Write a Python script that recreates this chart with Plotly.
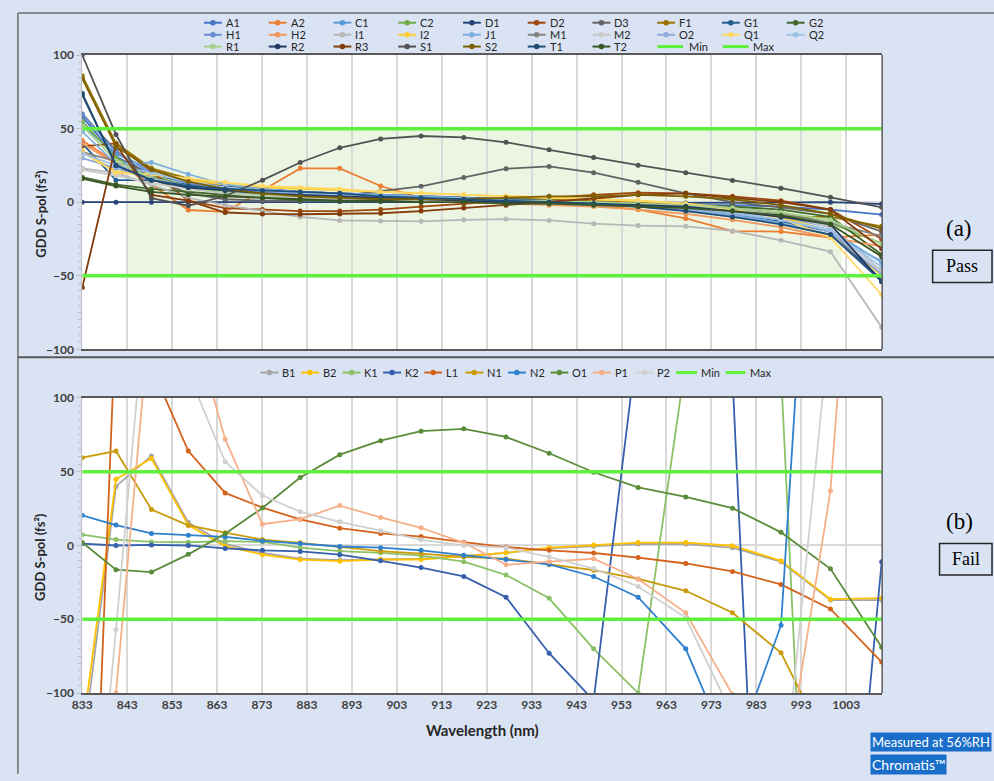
import plotly.graph_objects as go

W, H = 994, 781

# ---------------- data ----------------
wavelength = [833, 840.5, 848.4, 856.6, 864.8, 873.1, 881.5, 890.3, 899.4, 908.4,
              917.9, 927.3, 936.9, 946.8, 956.7, 967.3, 977.7, 988.5, 999.5, 1010.9]

x_tick_labels = [833, 843, 853, 863, 873, 883, 893, 903, 913, 923, 933, 943, 953, 963, 973, 983, 993, 1003]
y_tick_labels = [-100, -50, 0, 50, 100]
min_spec = -50
max_spec = 50
pass_band_start = 843
pass_band_end = 1002

# panel (a) - Pass
A1 = [58, 31, 19, 13, 10, 8, 7, 6, 5, 4, 3, 2, 1, 0, -1, -2, -2, -3, -5, -8.4]
A2 = [42, 27, 12, -5.3, -6.6, 8, 23, 23, 11, 3, 2, 1, 0, -2, -5, -11, -19.7, -20, -24, -22]
C1 = [52, 33, 22, 16, 11, 9, 7, 6, 4, 3, 2, 1, 0, -1, -3, -5, -8, -12, -19, -41]
C2 = [55, 30, 18, 11, 8, 6, 5, 4, 3, 2, 2, 1, 1, 0, -1, -2, -4, -7, -14, -28]
D1 = [0, 0, 0, 0, 0.5, 0.5, 0.5, 0.5, 0.5, 0.5, 0.5, 0.5, 0, 0, 0, -0.5, -0.5, 0, 0, -1.3]
D2 = [38, 40, 21, 1, -4, -5, -6, -6, -5, -3, -1, 1, 3, 5, 6.5, 6, 4, 1, -5, -25]
D3 = [60, 35, 16, 6, 2, 1, 1, 4, 7.5, 10.8, 16.8, 22.8, 24.3, 20.1, 13.5, 6, 0, -3.5, -8, -20]
F1 = [86, 40, 23, 16, 11, 8, 6, 5, 4, 3, 3, 2, 2, 1, 0, -2, -5, -10, -10, -16.4]
G1 = [40, 15, 15, 12, 11, 8.8, 7, 6, 5, 4, 3, 2, 1, 0, -2, -4, -8, -13, -20, -52.7]
G2 = [17, 12, 9, 7, 5, 3, 1.5, 1, 1, 1, 1, 0, 0, 0, -1, -2, -3, -5, -10, -35.6]
H1 = [60, 34, 20, 13, 9, 7, 6, 5, 4, 3, 2, 1, 0, -1, -2, -4, -6, -10, -17, -47]
H2 = [40, 26, 16, 10, 7, 5, 4, 3, 2, 1, 0, -1, -2, -3, -5, -8, -12, -17, -24, -30]
I1 = [23, 20, 12, 3, -2, -6, -10, -12.4, -12.8, -13, -12, -11.5, -12.4, -14.6, -15.9, -16.4, -19.5, -25.9, -33.6, -85]
I2 = [35, 21, 19, 15, 12, 10, 9, 8, 7, 6, 5, 4, 3, 2, 1, -1, -4, -10, -20, -50]
J1 = [48, 26, 27, 19, 12, 9, 7, 6, 5, 4, 3, 1, 0, -1, -3, -5, -9, -14, -22, -40]
M1 = [34, 28, 17, 10, 7, 5, 4, 3, 2, 2, 1, 1, 0, 0, -1, -2, -4, -8, -14, -23]
M2 = [22, 18, 13, 9, 6, 4, 3, 2, 2, 1, 1, 0, 0, -1, -2, -3, -5, -9, -17, -47.3]
O2 = [30, 23, 16, 11, 8, 6, 5, 4, 3, 2, 1, 0, -1, -2, -3, -5, -8, -12, -20, -49]
Q1 = [34, 20, 19, 16, 13.5, 11, 10, 9, 7, 6, 5, 4, 3, 2, 1, -1, -5, -11, -24, -62.8]
Q2 = [33, 25, 20, 14, 10, 8, 6, 5, 4, 3, 2, 1, 0, -1, -2, -4, -7, -12, -19, -44]
R1 = [52, 28, 16, 10, 7, 5, 4, 3, 3, 2, 2, 1, 1, 0, -1, -2, -4, -7, -12, -28.5]
R2 = [73, 25, 15, 10, 8, 6, 5, 4, 3, 2, 1, 0, 0, -1, -2, -3, -6, -10, -15, -54]
R3 = [-58, 39, 5, 1, -7, -8, -8.2, -8, -7.5, -6, -4, -2, 0, 2.5, 5, 6, 3, 0, -5, -31.6]
S1 = [100, 46, 2.7, -2.4, 4.2, 15, 27, 37, 43, 45, 44, 40.7, 35.6, 30.3, 25.2, 20.1, 14.8, 9.5, 3.3, -3.5]
S2 = [84, 38, 22, 14, 9, 6, 4, 3, 2, 2, 2, 3, 4, 4, 5, 4, 2, -2, -8, -18]
T1 = [74, 25, 15, 11, 9, 8, 7, 6, 4, 3, 2, 1, 0, -1, -3, -6, -10, -15, -22, -53.8]
T2 = [16, 11, 7, 5, 4, 3, 2, 1, 1, 0, 0, -1, -1, -2, -3, -4, -6, -9, -15, -37]

pass_names = ["A1", "A2", "C1", "C2", "D1", "D2", "D3", "F1", "G1", "G2",
              "H1", "H2", "I1", "I2", "J1", "M1", "M2", "O2", "Q1", "Q2",
              "R1", "R2", "R3", "S1", "S2", "T1", "T2"]
pass_values = [A1, A2, C1, C2, D1, D2, D3, F1, G1, G2,
               H1, H2, I1, I2, J1, M1, M2, O2, Q1, Q2,
               R1, R2, R3, S1, S2, T1, T2]
pass_colors = ["#4472c4", "#ed7d31", "#5b9bd5", "#70ad47", "#264478", "#9e480e", "#636363", "#997300", "#255e91", "#43682b",
               "#698ed0", "#f1975a", "#b7b7b7", "#ffcd33", "#7cafdd", "#848484", "#c9c9c9", "#8faadc", "#ffd966", "#9dc3e6",
               "#a9d18e", "#203864", "#843c0c", "#525252", "#7f6000", "#1f4e79", "#375623"]

# panel (b) - Fail
B1 = [-140, 40, 60.7, 15.6, 1, -5, -9, -10, -9.5, -9, -7, -5, -2, -0.5, 1, 1, -1.5, -11, -37, -37]
B2 = [-127, 44.9, 58.9, 13.8, -0.4, -6.2, -9.6, -10.6, -9.5, -9.5, -7.3, -5, -1.5, 0.4, 2, 2, -0.2, -10.4, -36.4, -35.6]
K1 = [7.3, 4, 2.4, 2.2, 2.9, 2.4, -1.5, -3.8, -5, -6.9, -11, -20, -35.8, -70, -100, 125, 180, 118, -590, -400]
K2 = [1.3, 0, 0.4, 0, -2, -3.3, -4, -6.2, -10.4, -15, -21, -35, -73, -105, 142, 250, 114, -587, -384, -11]
L1 = [-420, 158, 121, 64, 35.6, 25.6, 17.7, 11.7, 8.2, 6, 2.2, -1.1, -3.3, -5.1, -8.2, -12.2, -17.6, -26.4, -43, -79]
N1 = [59.5, 64, 24.4, 13.6, 8.7, 4, 1.8, -1, -3.8, -5.5, -7.7, -9, -13, -16.7, -22.7, -30.7, -45.6, -72.7, -140, -220]
N2 = [20.4, 13.8, 8.2, 6.9, 5.8, 3.1, 1.3, -0.7, -1.5, -3.3, -6.6, -9.5, -12.8, -21, -35, -70, -145, -54, 478, 900]
O1 = [2, -16.4, -18, -6, 8, 25.4, 46, 61.5, 71, 77.4, 79, 73.5, 62.5, 49.6, 39.3, 32.9, 25.3, 8.9, -15.8, -68.9]
P1 = [-346, -100, 167, 162, 72, 14.4, 17.8, 27, 19, 12, 1.8, -13, -11, -9, -22.7, -45.6, -101, -172, 37, 500]
P2 = [-300, -57, 210, 117, 56.7, 33.8, 22.9, 16, 10, 3.8, 0, -1.5, -7.7, -15.6, -27.8, -49, -115, -182, 154, 300]

fail_names = ["B1", "B2", "K1", "K2", "L1", "N1", "N2", "O1", "P1", "P2"]
fail_values = [B1, B2, K1, K2, L1, N1, N2, O1, P1, P2]
fail_colors = ["#a5a5a5", "#ffc000", "#8cc168", "#3560ad", "#d4621b", "#c99a0a", "#2f80cf", "#5b8c3a", "#f5b08a", "#d0d0d0"]

spec_color = "#5ef03c"
bg = "#dae3f3"
font_main = "Lato"

# ---------------- helpers (pixel -> paper) ----------------
def PX(v):
    return v / W


def PY(v):
    return 1 - v / H


fig = go.Figure()

for name, vals, col in zip(pass_names, pass_values, pass_colors):
    fig.add_trace(go.Scatter(x=wavelength, y=vals, mode="lines+markers", name=name,
                             line=dict(color=col, width=1.8), marker=dict(color=col, size=5),
                             xaxis="x", yaxis="y", showlegend=False))
for nm, val in (("Min", min_spec), ("Max", max_spec)):
    fig.add_trace(go.Scatter(x=wavelength, y=[val] * len(wavelength), mode="lines", name=nm,
                             line=dict(color=spec_color, width=3.5), xaxis="x", yaxis="y", showlegend=False))

for name, vals, col in zip(fail_names, fail_values, fail_colors):
    fig.add_trace(go.Scatter(x=wavelength, y=vals, mode="lines+markers", name=name,
                             line=dict(color=col, width=1.8), marker=dict(color=col, size=5),
                             xaxis="x2", yaxis="y2", showlegend=False))
for nm, val in (("Min", min_spec), ("Max", max_spec)):
    fig.add_trace(go.Scatter(x=wavelength, y=[val] * len(wavelength), mode="lines", name=nm,
                             line=dict(color=spec_color, width=3.5), xaxis="x2", yaxis="y2", showlegend=False))

xdom = [PX(73), PX(881)]
ydom_a = [PY(348), PY(48)]
ydom_b = [PY(698.5), PY(397.5)]

xcommon = dict(range=[833, 1011], tickvals=x_tick_labels, showgrid=True, gridcolor="#d9d9d9", gridwidth=1.5,
               showline=True, linecolor="#595959", linewidth=1.5, mirror=True, ticks="", zeroline=False,
               domain=xdom, fixedrange=True)
ycommon = dict(range=[-100, 100], tickvals=y_tick_labels, showgrid=False, showline=True, linecolor="#bfbfbf",
               linewidth=1, ticks="outside", ticklen=5, tickcolor="#bfbfbf",
               minor=dict(dtick=5, ticks="outside", ticklen=3, tickcolor="#bfbfbf", showgrid=False),
               zeroline=True, zerolinecolor="#d9d9d9", zerolinewidth=1.5,
               tickfont=dict(family=font_main, size=12, color="#404040", weight="bold"))

fig.update_layout(
    width=W, height=H, margin=dict(l=0, r=0, t=0, b=0),
    paper_bgcolor=bg, plot_bgcolor="white", showlegend=False,
    font=dict(family=font_main, color="#404040"),
    xaxis=dict(xcommon, anchor="y", showticklabels=False),
    yaxis=dict(ycommon, domain=ydom_a, anchor="x"),
    xaxis2=dict(xcommon, anchor="y2", showticklabels=True,
                tickfont=dict(family=font_main, size=12, color="#404040", weight="bold")),
    yaxis2=dict(ycommon, domain=ydom_b, anchor="x2"),
)

shapes = []
annots = []

# pass band shading
shapes.append(dict(type="rect", xref="x", yref="y", x0=pass_band_start, x1=pass_band_end,
                   y0=min_spec, y1=max_spec, fillcolor="#ebf5e1", line=dict(width=0), layer="below"))

# right borders of plot areas
for ya, yb in ((48, 348), (397.5, 698.5)):
    shapes.append(dict(type="line", xref="paper", yref="paper", x0=PX(881), x1=PX(881), y0=PY(ya), y1=PY(yb),
                       line=dict(color="#595959", width=1.5)))

# outer frame lines
shapes.append(dict(type="line", xref="paper", yref="paper", x0=PX(8), x1=PX(8), y0=PY(5), y1=PY(781),
                   line=dict(color="#6d6d6d", width=1.5)))
shapes.append(dict(type="line", xref="paper", yref="paper", x0=PX(8), x1=PX(994), y0=PY(5), y1=PY(5),
                   line=dict(color="#6d6d6d", width=1.5)))
shapes.append(dict(type="line", xref="paper", yref="paper", x0=PX(8), x1=PX(994), y0=PY(356), y1=PY(356),
                   line=dict(color="#595959", width=2)))


def legend_marker_item(cx, cy, color, name):
    shapes.append(dict(type="line", xref="paper", yref="paper", x0=PX(cx - 9), x1=PX(cx + 9),
                       y0=PY(cy), y1=PY(cy), line=dict(color=color, width=2)))
    r = 2.8
    shapes.append(dict(type="circle", xref="paper", yref="paper", x0=PX(cx - r), x1=PX(cx + r),
                       y0=PY(cy + r), y1=PY(cy - r), fillcolor=color, line=dict(color=color, width=0)))
    annots.append(dict(x=PX(cx + 11), y=PY(cy), xref="paper", yref="paper", text=name, showarrow=False,
                       xanchor="left", yanchor="middle", font=dict(family=font_main, size=11, color="#262626")))


def legend_line_item(x0, x1, cy, color, name, tx):
    shapes.append(dict(type="line", xref="paper", yref="paper", x0=PX(x0), x1=PX(x1),
                       y0=PY(cy), y1=PY(cy), line=dict(color=color, width=3)))
    annots.append(dict(x=PX(tx), y=PY(cy), xref="paper", yref="paper", text=name, showarrow=False,
                       xanchor="left", yanchor="middle", font=dict(family=font_main, size=11, color="#262626")))


rows_y = [15, 27.3, 39.3]
for i, (name, col) in enumerate(zip(pass_names, pass_colors)):
    r, c = divmod(i, 10)
    legend_marker_item(205 + 65.4 * c, rows_y[r], col, name)
legend_line_item(654, 680, rows_y[2], spec_color, "Min", 684)
legend_line_item(720, 746, rows_y[2], spec_color, "Max", 749)

fail_leg_x = [262, 303, 345, 386, 427.5, 469, 512, 555, 598, 641]
for cx, name, col in zip(fail_leg_x, fail_names, fail_colors):
    legend_marker_item(cx, 371.7, col, name)
legend_line_item(673, 694, 371.7, spec_color, "Min", 696.5)
legend_line_item(723, 743, 371.7, spec_color, "Max", 745)

for yc in (210, 560):
    annots.append(dict(x=PX(31), y=PY(yc), xref="paper", yref="paper", text="<b>GDD S-pol (fs²)</b>",
                       textangle=-90, showarrow=False, xanchor="center", yanchor="middle",
                       font=dict(family=font_main, size=13, color="#262626")))
annots.append(dict(x=PX(477), y=PY(736), xref="paper", yref="paper", text="<b>Wavelength (nm)</b>",
                   showarrow=False, xanchor="center", yanchor="middle",
                   font=dict(family=font_main, size=15, color="#262626")))

serif = "Liberation Serif"
annots.append(dict(x=PX(959), y=PY(225), xref="paper", yref="paper", text="(a)", showarrow=False,
                   xanchor="center", yanchor="middle", font=dict(family=serif, size=23, color="black")))
annots.append(dict(x=PX(959), y=PY(524), xref="paper", yref="paper", text="(b)", showarrow=False,
                   xanchor="center", yanchor="middle", font=dict(family=serif, size=23, color="black")))
shapes.append(dict(type="rect", xref="paper", yref="paper", x0=PX(932), x1=PX(992), y0=PY(280), y1=PY(247),
                   line=dict(color="#262626", width=1.5), fillcolor=bg))
shapes.append(dict(type="rect", xref="paper", yref="paper", x0=PX(939), x1=PX(992), y0=PY(578), y1=PY(546),
                   line=dict(color="#262626", width=1.5), fillcolor=bg))
annots.append(dict(x=PX(962), y=PY(263.5), xref="paper", yref="paper", text="Pass", showarrow=False,
                   xanchor="center", yanchor="middle", font=dict(family=serif, size=18, color="black")))
annots.append(dict(x=PX(965.5), y=PY(562), xref="paper", yref="paper", text="Fail", showarrow=False,
                   xanchor="center", yanchor="middle", font=dict(family=serif, size=18, color="black")))

annots.append(dict(x=PX(869), y=PY(748.5), xref="paper", yref="paper", text="Measured at 56%RH", showarrow=False,
                   xanchor="left", yanchor="middle", bgcolor="#1a6ec9", borderpad=1,
                   font=dict(family=font_main, size=13, color="white")))
annots.append(dict(x=PX(869), y=PY(771), xref="paper", yref="paper", text="Chromatis™", showarrow=False,
                   xanchor="left", yanchor="middle", bgcolor="#1a6ec9", borderpad=1,
                   font=dict(family=font_main, size=14, color="white")))

fig.update_layout(shapes=shapes, annotations=annots)
fig.write_html("out.html", post_script="document.body.style.margin='0px';document.body.style.overflow='hidden';")
